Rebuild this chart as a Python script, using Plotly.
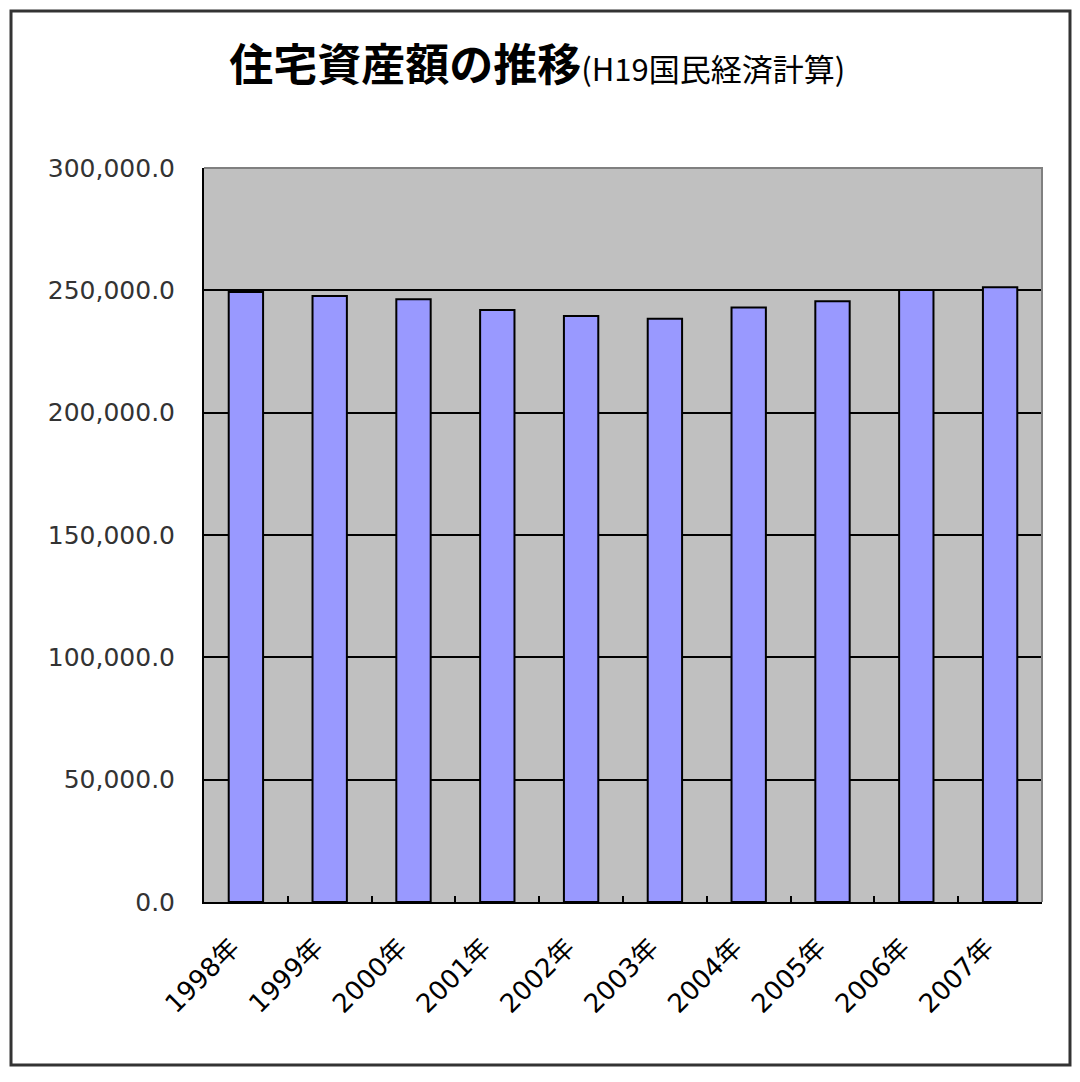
#!/usr/bin/env python3
"""住宅資産額の推移 (H19国民経済計算) - bar chart"""
import plotly.graph_objects as go

# Data
years = ["1998年", "1999年", "2000年", "2001年", "2002年",
         "2003年", "2004年", "2005年", "2006年", "2007年"]
housing_assets = [249300, 247700, 246400, 242000, 239500,
                  238400, 243000, 245500, 250100, 251300]
y_ticks = [0, 50000, 100000, 150000, 200000, 250000, 300000]

JP_FONT = "Noto Sans CJK JP"

fig = go.Figure(
    go.Bar(
        x=years,
        y=housing_assets,
        marker=dict(color="#9999FF", line=dict(color="black", width=2)),
        hoverinfo="x+y",
    )
)

# page body has an 8px margin, so margins are 8px smaller than measured
fig.update_layout(
    width=1080, height=1082,
    margin=dict(l=196, r=46, t=160, b=188),
    paper_bgcolor="white",
    plot_bgcolor="#C0C0C0",
    bargap=0.59,
    showlegend=False,
    title=dict(
        text="<b>住宅資産額の推移</b><span style='font-size:31px'>(H19国民経済計算)</span>",
        font=dict(family=JP_FONT, size=44, color="black"),
        xref="container", x=0.49, xanchor="center",
        yref="container", y=0.947, yanchor="middle",
    ),
    font=dict(family=JP_FONT),
)

# Axes
fig.update_xaxes(
    type="category",
    showgrid=False, zeroline=False,
    showline=True, linecolor="black", linewidth=2,
    tickson="boundaries", ticks="inside", ticklen=6,
    tickcolor="black", tickwidth=1.5,
    tickangle=-45,
    ticklabelshift=-14, ticklabelstandoff=18,
    tickfont=dict(family="DejaVu Sans, " + JP_FONT, size=26, color="black"),
)
fig.update_yaxes(
    range=[0, 300000],
    tickvals=y_ticks,
    tickformat=",.1f",
    showgrid=True, gridcolor="black", gridwidth=1.5,
    zeroline=False,
    showline=True, linecolor="black", linewidth=2,
    ticks="", ticklabelstandoff=22,
    tickfont=dict(family="DejaVu Sans", size=25, color="#333333"),
)

# Gray top/right border of plot area and outer chart frame
fig.add_shape(type="path", xref="paper", yref="paper",
              path="M 0,1 L 1,1 L 1,0", line=dict(color="#808080", width=2),
              layer="above")
fig.add_shape(type="rect", xref="paper", yref="paper",
              x0=-0.2303, x1=1.0334, y0=-0.2221, y1=1.2139,
              line=dict(color="#333333", width=3), layer="below")

fig.write_html("out.html")
